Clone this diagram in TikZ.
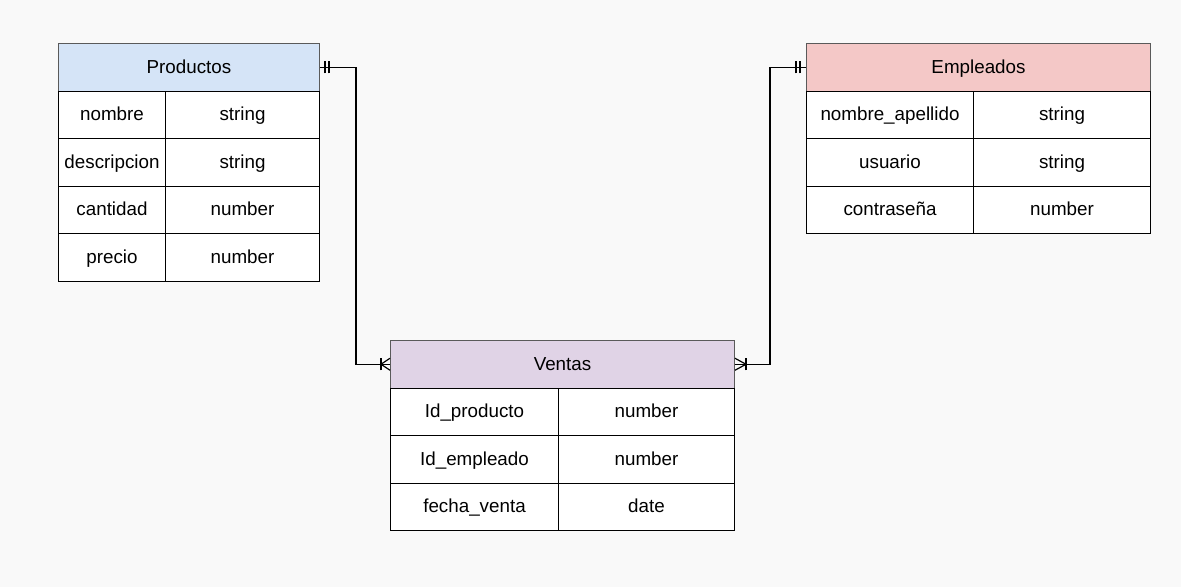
\documentclass[tikz,border=0pt]{standalone}
\usepackage{fontspec}
\setmainfont{Liberation Sans}
\definecolor{bgc}{HTML}{F9F9F9}
\definecolor{hblue}{HTML}{D5E4F7}
\definecolor{hred}{HTML}{F4C8C7}
\definecolor{hpurp}{HTML}{E0D3E6}
\definecolor{hline}{HTML}{5A5A5A}
\tikzset{
  base/.style={anchor=north west, inner sep=0pt, font=\fontsize{18.8}{20}\selectfont, text=black, minimum height=47.5pt, text height=14pt, text depth=2.5pt},
  hdr/.style={base, draw=hline, line width=1pt},
  cell/.style={base, draw=black, fill=white, line width=1pt},
  conn/.style={draw=black, line width=1.2pt},
  erbar/.style={draw=black, line width=1.2pt}
}
\begin{document}
\begin{tikzpicture}[x=1pt,y=-1pt]
\fill[bgc] (0,0) rectangle (1181,587);
\useasboundingbox (0,0) rectangle (1181,587);
% Productos
\node[hdr, fill=hblue, minimum width=261pt] (prod) at (58,43) {Productos};
\foreach \a/\b [count=\i] in {nombre/string, descripcion/string, cantidad/number, precio/number}{
  \node[cell, minimum width=107pt] (p\i a) at (58,{43+47.5*\i}) {\a};
  \node[cell, minimum width=154pt] (p\i b) at (165,{43+47.5*\i}) {\b};
}
% Empleados
\node[hdr, fill=hred, minimum width=344pt] (emp) at (806,43) {Empleados};
\foreach \a/\b [count=\i] in {nombre\_apellido/string, usuario/string, contraseña/number}{
  \node[cell, minimum width=167pt] (e\i a) at (806,{43+47.5*\i}) {\a};
  \node[cell, minimum width=177pt] (e\i b) at (973,{43+47.5*\i}) {\b};
}
% Ventas
\node[hdr, fill=hpurp, minimum width=344pt] (vent) at (390,340) {Ventas};
\foreach \a/\b [count=\i] in {Id\_producto/number, Id\_empleado/number, fecha\_venta/date}{
  \node[cell, minimum width=168pt] (v\i a) at (390,{340+47.5*\i}) {\a};
  \node[cell, minimum width=176pt] (v\i b) at (558,{340+47.5*\i}) {\b};
}
% connectors
\draw[conn] (prod.east) -- ++(36,0) |- (vent.west);
\draw[conn] (emp.west) -- ++(-36,0) |- (vent.east);
% mandatory one marks
\draw[erbar] ([xshift=5pt,yshift=-6pt]prod.east) -- ([xshift=5pt,yshift=6pt]prod.east);
\draw[erbar] ([xshift=9pt,yshift=-6pt]prod.east) -- ([xshift=9pt,yshift=6pt]prod.east);
\draw[erbar] ([xshift=-6pt,yshift=-6pt]emp.west) -- ([xshift=-6pt,yshift=6pt]emp.west);
\draw[erbar] ([xshift=-10pt,yshift=-6pt]emp.west) -- ([xshift=-10pt,yshift=6pt]emp.west);
% one-to-many marks
\draw[erbar] ([xshift=-9pt,yshift=-6pt]vent.west) -- ([xshift=-9pt,yshift=6pt]vent.west);
\draw[erbar] ([yshift=-6pt]vent.west) -- ([xshift=-9pt]vent.west) -- ([yshift=6pt]vent.west);
\draw[erbar] ([xshift=11pt,yshift=-6pt]vent.east) -- ([xshift=11pt,yshift=6pt]vent.east);
\draw[erbar] ([yshift=-6pt]vent.east) -- ([xshift=11pt]vent.east) -- ([yshift=6pt]vent.east);
\end{tikzpicture}
\end{document}
